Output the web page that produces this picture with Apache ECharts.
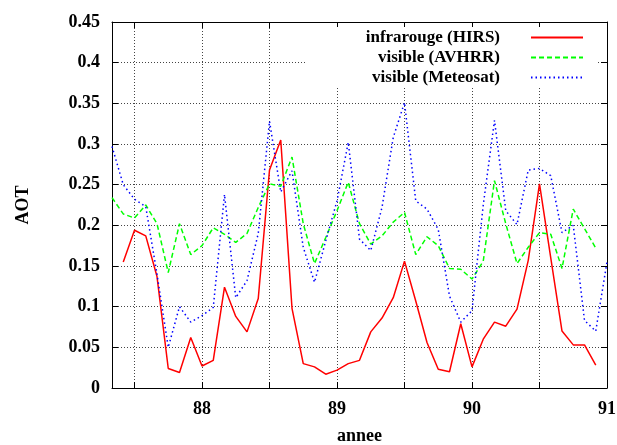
<!DOCTYPE html>
<html>
<head>
<meta charset="utf-8">
<script src="https://cdn.jsdelivr.net/npm/echarts@6/dist/echarts.min.js"></script>
<style>
html,body{margin:0;padding:0;background:#fff;}
#chart{width:617px;height:445px;}
</style>
</head>
<body>
<div id="chart"></div>
<script>
// Monthly samples, month index k counted from Jan 1987 (k=4 ... k=48)
const firstMonth = 4;
const lastMonth = 48;

const seriesNames = ['infrarouge (HIRS)', 'visible (AVHRR)', 'visible (Meteosat)'];

const hirs = [null, 0.155, 0.194, 0.187, 0.137, 0.024, 0.019, 0.062, 0.027, 0.034,
  0.124, 0.088, 0.069, 0.110, 0.268, 0.305, 0.098, 0.030, 0.026, 0.017,
  0.022, 0.030, 0.034, 0.069, 0.086, 0.111, 0.156, 0.107, 0.056, 0.023,
  0.020, 0.079, 0.026, 0.060, 0.081, 0.076, 0.097, 0.157, 0.251, 0.160,
  0.070, 0.053, 0.053, 0.028, null];

const avhrr = [0.234, 0.214, 0.209, 0.225, 0.202, 0.142, 0.202, 0.164, 0.175, 0.197,
  0.189, 0.179, 0.190, 0.222, 0.251, 0.248, 0.284, 0.202, 0.153, 0.185,
  0.218, 0.253, 0.202, 0.177, 0.187, 0.204, 0.216, 0.164, 0.186, 0.175,
  0.147, 0.146, 0.134, 0.156, 0.255, 0.202, 0.153, 0.173, 0.191, 0.189,
  0.147, 0.220, 0.196, 0.172, null];

const meteosat = [0.297, 0.250, 0.232, 0.223, 0.140, 0.050, 0.100, 0.081, 0.089, 0.099,
  0.238, 0.111, 0.132, 0.190, 0.328, 0.241, 0.267, 0.173, 0.130, 0.181,
  0.230, 0.302, 0.183, 0.169, 0.222, 0.308, 0.351, 0.230, 0.220, 0.195,
  0.113, 0.081, 0.095, 0.225, 0.329, 0.218, 0.201, 0.268, 0.270, 0.261,
  0.191, 0.200, 0.083, 0.070, 0.155];

const xTicks = [87.5, 88, 88.5, 89, 89.5, 90, 90.5, 91];
const xLabels = [88, 89, 90, 91];

const years = [];
for (let k = firstMonth; k <= lastMonth; k++) years.push(87 + k / 12);

function pairs(vals) {
  const out = [];
  vals.forEach((v, i) => { if (v !== null) out.push([years[i], v]); });
  return out;
}

const FONT = 'Liberation Serif';
const txt = {fontFamily: FONT, fontWeight: 'bold', fontSize: 18, color: '#000'};

const chart = echarts.init(document.getElementById('chart'), null, {renderer: 'canvas'});

const legendBase = {
  orient: 'vertical',
  align: 'right',
  right: 33,
  itemWidth: 52,
  itemHeight: 12,
  itemGap: 0,
  padding: 0,
  itemStyle: {opacity: 0},
  textStyle: Object.assign({}, txt, {fontSize: 17, padding: [0, 26, 0, 0]}),
  z: 5
};

chart.setOption({
  animation: false,
  backgroundColor: '#fff',
  grid: {left: 112, right: 10, top: 22, bottom: 57, containLabel: false, outerBoundsMode: 'none'},
  graphic: [{
    type: 'rect', z: 1,
    shape: {x: 306, y: 27, width: 291, height: 59},
    style: {fill: '#fff'}
  }],
  legend: [
    Object.assign({}, legendBase, {data: [seriesNames[0]], top: 29}),
    Object.assign({}, legendBase, {data: [seriesNames[1]], top: 49}),
    Object.assign({}, legendBase, {data: [seriesNames[2]], top: 69})
  ],
  xAxis: [{
    type: 'value', min: 87 + 4 / 12, max: 91,
    name: 'annee', nameLocation: 'middle', nameGap: 39, nameTextStyle: txt,
    axisLine: {show: true, onZero: false, lineStyle: {color: '#000', width: 1}},
    axisTick: {show: true, inside: true, length: 6, customValues: xTicks, lineStyle: {color: '#000'}},
    axisLabel: Object.assign({}, txt, {margin: 12, customValues: xLabels}),
    splitLine: {show: true, lineStyle: {color: '#444', type: [1, 2], width: 1}},
    minorTick: {show: false}
  }, {
    type: 'value', min: 87 + 4 / 12, max: 91, position: 'top',
    axisLine: {show: true, onZero: false, lineStyle: {color: '#000', width: 1}},
    axisTick: {show: true, inside: true, length: 6, customValues: xTicks, lineStyle: {color: '#000'}},
    axisLabel: {show: false},
    splitLine: {show: false}
  }],
  yAxis: [{
    type: 'value', min: 0, max: 0.45, interval: 0.05,
    name: 'AOT', nameLocation: 'middle', nameGap: 80, nameRotate: 90, nameTextStyle: txt,
    axisLine: {show: true, onZero: false, lineStyle: {color: '#000', width: 1}},
    axisTick: {show: true, inside: true, length: 6, lineStyle: {color: '#000'}},
    axisLabel: Object.assign({}, txt, {margin: 12}),
    splitLine: {show: true, lineStyle: {color: '#444', type: [1, 2], width: 1}}
  }, {
    type: 'value', min: 0, max: 0.45, interval: 0.05, position: 'right',
    axisLine: {show: true, onZero: false, lineStyle: {color: '#000', width: 1}},
    axisTick: {show: true, inside: true, length: 6, lineStyle: {color: '#000'}},
    axisLabel: {show: false},
    splitLine: {show: false}
  }],
  series: [{
    name: seriesNames[0], type: 'line', data: pairs(hirs), symbol: 'none',
    connectNulls: false, z: 3,
    lineStyle: {color: '#ff0000', width: 1.5, type: 'solid'},
    itemStyle: {color: '#ff0000'}
  }, {
    name: seriesNames[1], type: 'line', data: pairs(avhrr), symbol: 'none',
    connectNulls: false, z: 3,
    lineStyle: {color: '#00ff00', width: 1.5, type: [5, 3]},
    itemStyle: {color: '#00ff00'}
  }, {
    name: seriesNames[2], type: 'line', data: pairs(meteosat), symbol: 'none',
    connectNulls: false, z: 3,
    lineStyle: {color: '#0000ff', width: 1.5, type: [1.5, 3]},
    itemStyle: {color: '#0000ff'}
  }]
});
</script>
</body>
</html>
